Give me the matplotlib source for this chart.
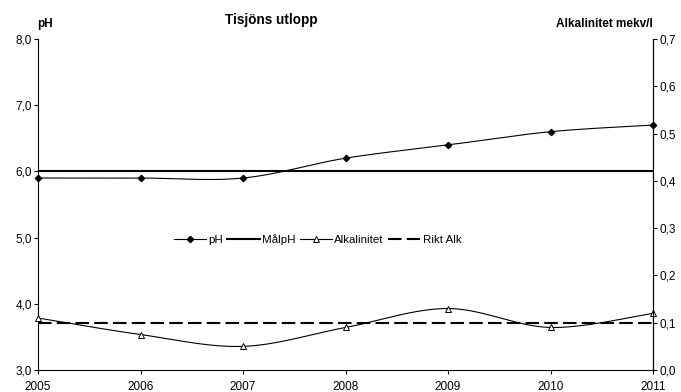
import numpy as np
import matplotlib
matplotlib.use("Agg")
import matplotlib.pyplot as plt
from matplotlib.lines import Line2D
from matplotlib.ticker import FuncFormatter

plt.rcParams['font.family'] = ['Liberation Sans', 'DejaVu Sans']
plt.rcParams['font.size'] = 8.5

years = [2005, 2006, 2007, 2008, 2009, 2010, 2011]
ph = [5.9, 5.9, 5.9, 6.2, 6.4, 6.6, 6.7]
alk = [0.11, 0.075, 0.05, 0.09, 0.13, 0.09, 0.12]
malph = 6.0
rikt_alk = 0.1


def smooth(x, y, n=40):
    # Excel-style smoothed line: cubic Bezier segments through the points
    p = np.column_stack([x, y]).astype(float)
    p = np.vstack([p[0], p, p[-1]])
    out = []
    for i in range(1, len(p) - 2):
        p0, p1, p2, p3 = p[i - 1], p[i], p[i + 1], p[i + 2]
        c1 = p1 + (p2 - p0) / 6
        c2 = p2 - (p3 - p1) / 6
        t = np.linspace(0, 1, n)[:, None]
        seg = ((1 - t) ** 3 * p1 + 3 * (1 - t) ** 2 * t * c1
               + 3 * (1 - t) * t ** 2 * c2 + t ** 3 * p2)
        out.append(seg if i == 1 else seg[1:])
    out = np.vstack(out)
    return out[:, 0], out[:, 1]


fig = plt.figure(figsize=(6.81, 3.92), dpi=100)
ax = fig.add_axes([0.0558, 0.0561, 0.9031, 0.8444])
ax2 = ax.twinx()

comma = FuncFormatter(lambda v, pos: f"{v:.1f}".replace(".", ","))
dash = (6.5, 2.5)

sx, sy = smooth(years, ph)
ax.plot(sx, sy, color='black', lw=0.8)
ax.plot(years, ph, ls='none', marker='D', ms=3.2, color='black', clip_on=False)
ax.axhline(malph, color='black', lw=1.5)

ax.set_xlim(2005, 2011)
ax.set_ylim(3.0, 8.0)
ax.set_yticks(np.arange(3.0, 8.01, 1.0))
ax.set_xticks(years)
ax.yaxis.set_major_formatter(comma)

ax2.set_ylim(0.0, 0.7)
ax2.set_yticks(np.arange(0.0, 0.701, 0.1))
ax2.yaxis.set_major_formatter(comma)

sx, sy = smooth(years, alk)
ax2.plot(sx, sy, color='black', lw=0.8)
ax2.plot(years, alk, ls='none', marker='^', ms=5, mfc='white',
         mec='black', mew=0.7, clip_on=False)
ax2.axhline(rikt_alk, color='black', lw=1.5, dashes=dash)

for a in (ax, ax2):
    a.spines['top'].set_visible(False)
    for s in a.spines.values():
        s.set_linewidth(0.8)
    a.tick_params(width=0.8, length=3, labelsize=8.5, pad=1.5)
ax.tick_params(axis='x', pad=5)
ax2.spines['left'].set_visible(False)
ax2.spines['bottom'].set_visible(False)

fig.text(0.055, 0.93, 'pH', fontweight='bold', fontsize=8.5)
fig.text(0.398, 0.94, 'Tisjöns utlopp', fontweight='bold', fontsize=9.75,
         ha='center')
fig.text(0.958, 0.93, 'Alkalinitet mekv/l', fontweight='bold',
         fontsize=8.5, ha='right')

handles = [
    Line2D([], [], color='black', lw=0.8, marker='D', ms=3.2),
    Line2D([], [], color='black', lw=1.5),
    Line2D([], [], color='black', lw=0.8, marker='^', ms=4.5, mfc='white',
           mec='black', mew=0.7),
    Line2D([], [], color='black', lw=1.5, dashes=dash),
]
ax2.legend(handles, ['pH', 'MålpH', 'Alkalinitet', 'Rikt Alk'],
           loc='center', bbox_to_anchor=(0.4545, 0.393), ncol=4, frameon=False,
           handlelength=2.8, handletextpad=0.2, columnspacing=0.4,
           fontsize=8.25)

fig.savefig('out.png', dpi=100)
